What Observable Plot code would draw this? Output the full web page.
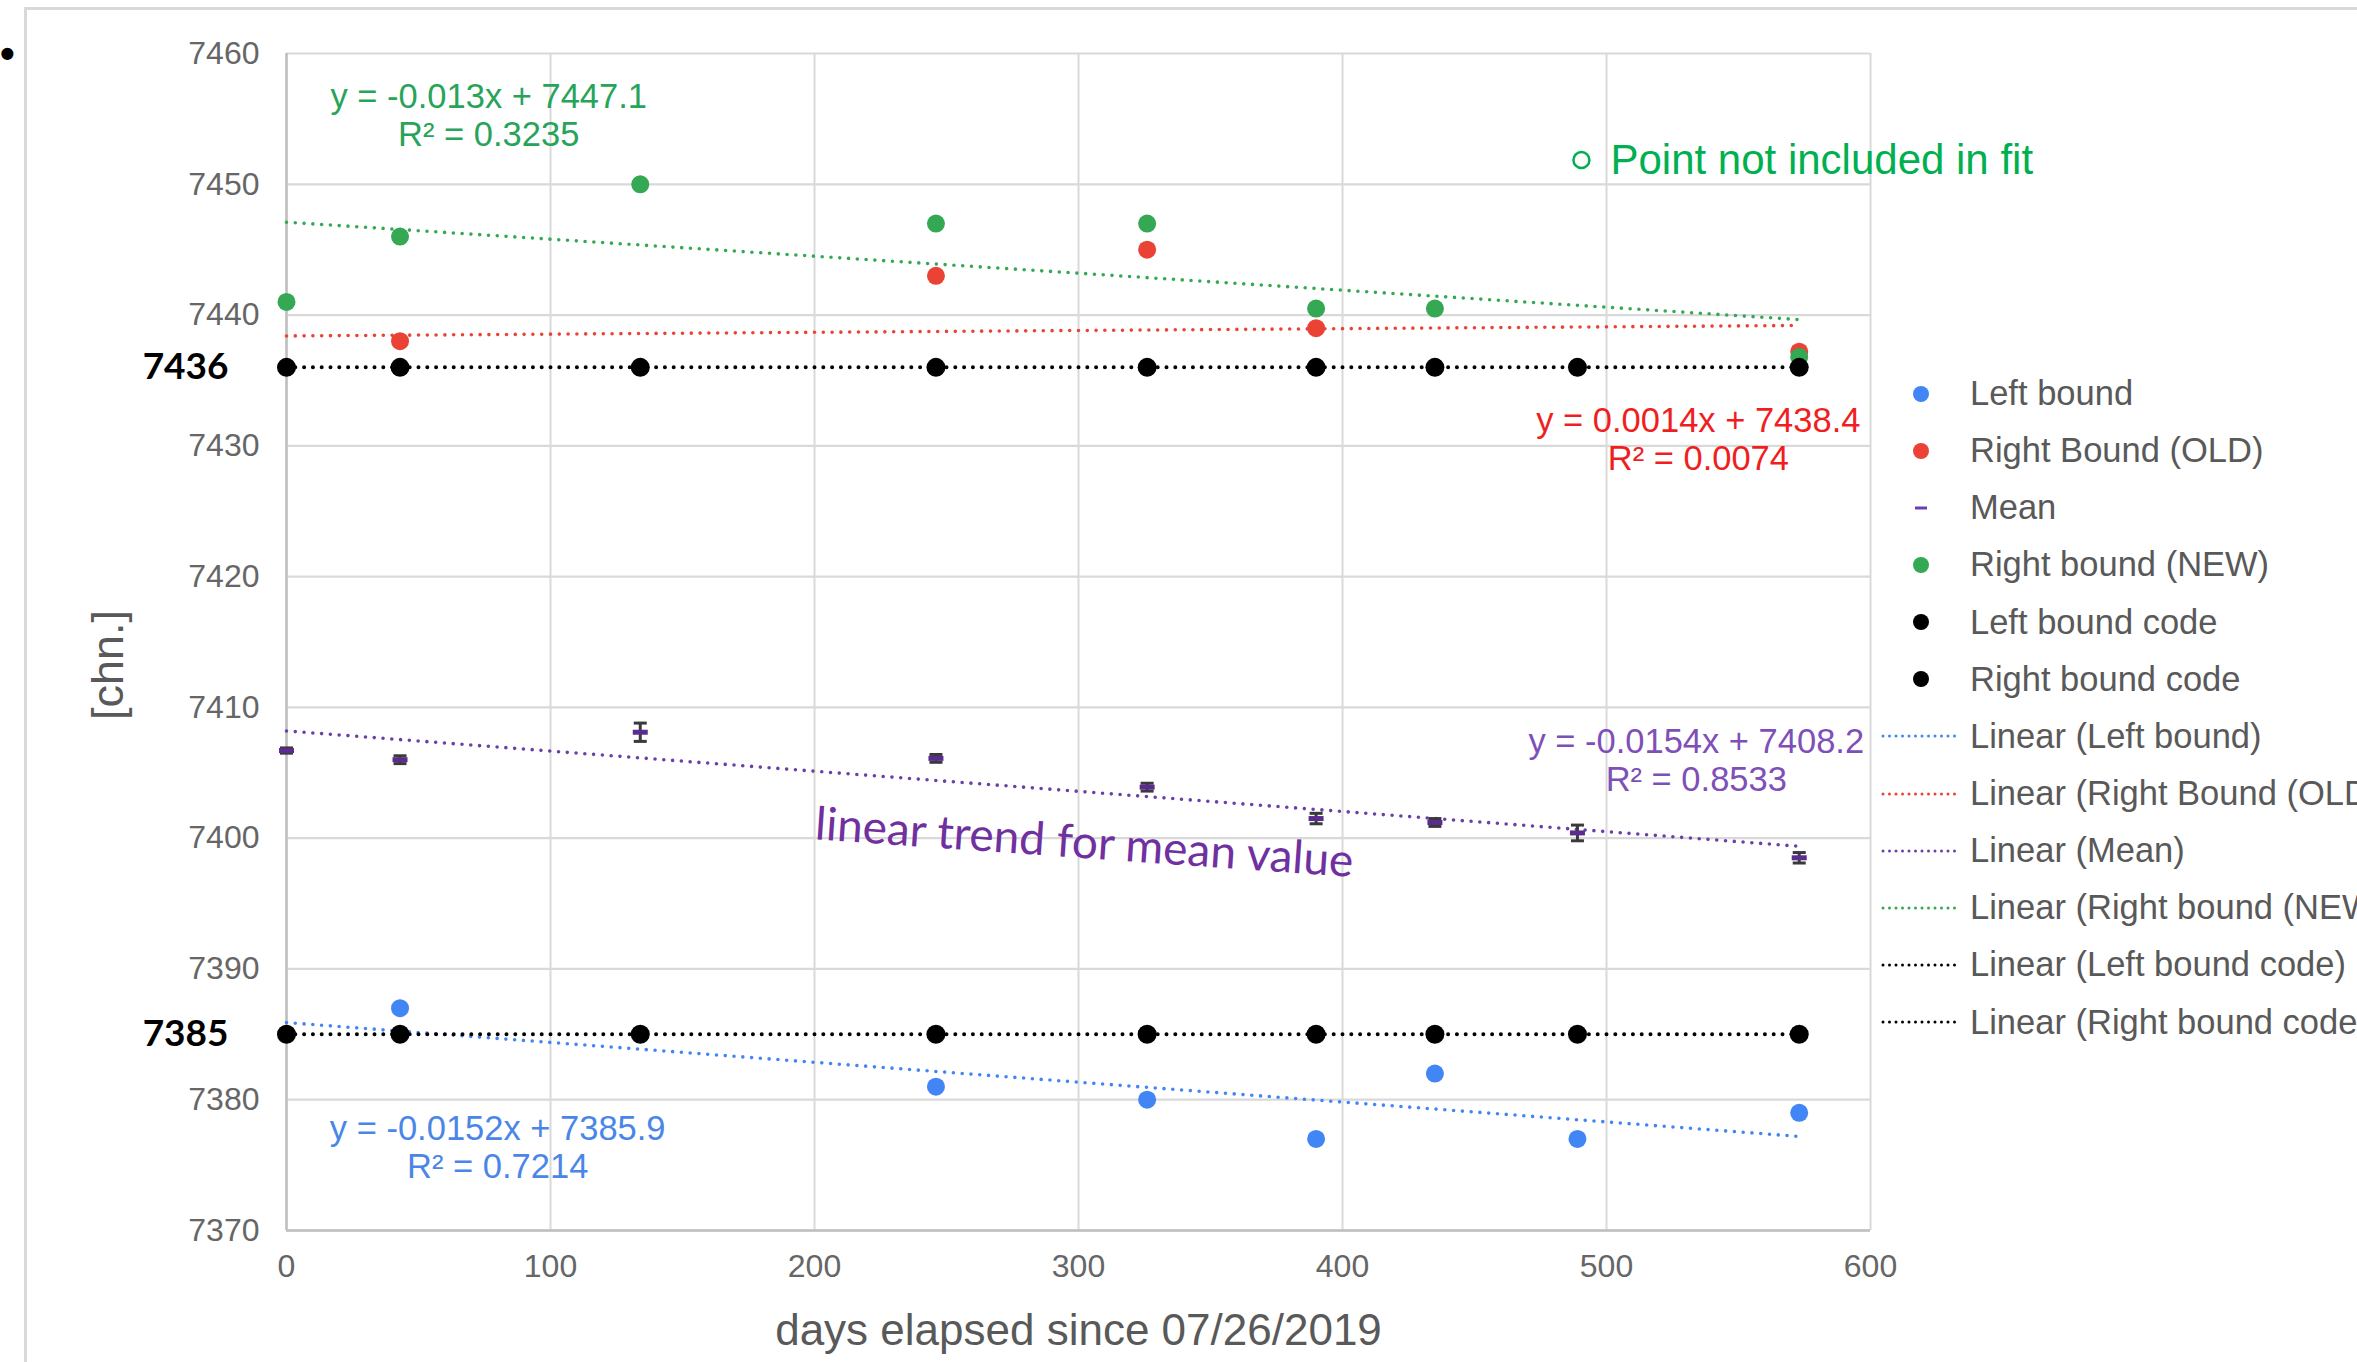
<!DOCTYPE html>
<html>
<head>
<meta charset="utf-8">
<script src="https://cdn.jsdelivr.net/npm/d3@7"></script>
<script src="https://cdn.jsdelivr.net/npm/@observablehq/plot@0.6"></script>
<style>
  html, body { margin: 0; padding: 0; background: #fff; overflow: hidden; width: 2357px; height: 1362px; }
  #wrap { position: relative; width: 2357px; height: 1362px; overflow: hidden; }
  #frame { position: absolute; left: 24px; top: 7px; width: 2400px; height: 1400px; border-left: 3px solid #d9d9d9; border-top: 3px solid #d9d9d9; }
  #bullet { position: absolute; left: 0px; top: 33px; font: bold 42px/1 'Liberation Sans', Arial, sans-serif; color: #000; }
  #chart { position: absolute; left: 0; top: 0; }
  #legend { position: absolute; left: 1875px; top: 365px; font-family: 'Liberation Sans', Arial, sans-serif; font-size: 34.5px; color: #595959; white-space: nowrap; }
  .row { height: 57.15px; display: flex; align-items: center; }
  .row svg { flex: none; }
  .row span { margin-left: 5px; }
</style>
</head>
<body>
<div id="wrap">
  <div id="frame"></div>
  <div id="bullet">•</div>
  <div id="chart"></div>
  <div id="legend"></div>
</div>
<script>
// ---------------- data ----------------
const days = [0, 43, 134, 246, 326, 390, 435, 489, 573];
const leftBound      = [7385, 7387, 7385, 7381, 7380, 7377, 7382, 7377, 7379];
const rightBoundOld  = [7436, 7438, 7436, 7443, 7445, 7439, 7436, 7436, 7437.2];
const meanValue      = [7406.7, 7406.0, 7408.1, 7406.1, 7403.9, 7401.5, 7401.2, 7400.4, 7398.5];
const meanError      = [0.2, 0.3, 0.7, 0.3, 0.3, 0.4, 0.3, 0.6, 0.4];
const rightBoundNew  = [7441, 7446, 7450, 7447, 7447, 7440.5, 7440.5, null, 7436.8];
const leftBoundCode  = [7385, 7385, 7385, 7385, 7385, 7385, 7385, 7385, 7385];
const rightBoundCode = [7436, 7436, 7436, 7436, 7436, 7436, 7436, 7436, 7436];

const seriesNames = ["Left bound", "Right Bound (OLD)", "Mean", "Right bound (NEW)", "Left bound code", "Right bound code"];
const fitSlope     = [-0.0152, 0.0014, -0.0154, -0.013, 0, 0];
const fitIntercept = [7385.9, 7438.4, 7408.2, 7447.1, 7385, 7436];
const fitR2        = ["0.7214", "0.0074", "0.8533", "0.3235", null, null];

const xTicks = [0, 100, 200, 300, 400, 500, 600];
const yTicks = [7370, 7380, 7390, 7400, 7410, 7420, 7430, 7440, 7450, 7460];
const codeLevels = [7436, 7385];

const xTitle = "days elapsed since 07/26/2019";
const yTitle = "[chn.]";
const noteText = "Point not included in fit";
const meanNote = "linear trend for mean value";

// ---------------- styles ----------------
const seriesColors = ["#4285F4", "#EA4335", "#6a3fa8", "#34A853", "#000000", "#000000"];
const eqColors = ["#4a86e8", "#f01e1e", "#7f4fb8", "#27a35a"];
const FONT = "'Liberation Sans', Arial, sans-serif";

// ---------------- derived tables ----------------
const pts = (arr) => days.map((x, i) => ({x, y: arr[i]})).filter(d => d.y != null);
const xMax = d3.max(days);
const trend = (i) => [0, xMax].map(x => ({x, y: fitIntercept[i] + fitSlope[i] * x}));
const meanRows = days.map((x, i) => ({x, y: meanValue[i], lo: meanValue[i] - meanError[i], hi: meanValue[i] + meanError[i]}));
const eqLabel = (i) => `y = ${fitSlope[i]}x + ${fitIntercept[i]}\nR² = ${fitR2[i]}`;

const hbar = { draw(ctx, size) { const w = Math.sqrt(size / Math.PI); ctx.moveTo(-w, 0); ctx.lineTo(w, 0); } };

const dotted = (i) => ({strokeWidth: i >= 4 ? 4 : 3.6, strokeDasharray: "0 8.8", strokeLinecap: "round"});

const marks = [
  Plot.ruleX(xTicks, {stroke: "#d9d9d9", strokeWidth: 2}),
  Plot.ruleY(yTicks, {stroke: "#d9d9d9", strokeWidth: 2.2}),
  Plot.ruleX([0], {stroke: "#bfbfbf", strokeWidth: 2.5}),
  Plot.ruleY([7370], {stroke: "#bfbfbf", strokeWidth: 2.5}),
];
// trend lines
[0, 1, 2, 3, 4, 5].forEach(i => {
  marks.push(Plot.line(trend(i), {x: "x", y: "y", stroke: seriesColors[i], ...dotted(i)}));
});
// error bars for mean
marks.push(Plot.ruleX(meanRows, {x: "x", y1: "lo", y2: "hi", stroke: "#3a3a3a", strokeWidth: 3}));
marks.push(Plot.dot(meanRows, {x: "x", y: "lo", symbol: hbar, r: 6.5, fill: "none", stroke: "#3a3a3a", strokeWidth: 3}));
marks.push(Plot.dot(meanRows, {x: "x", y: "hi", symbol: hbar, r: 6.5, fill: "none", stroke: "#3a3a3a", strokeWidth: 3}));
// points
marks.push(Plot.dot(pts(leftBound), {x: "x", y: "y", r: 9, fill: seriesColors[0]}));
marks.push(Plot.dot(pts(rightBoundOld), {x: "x", y: "y", r: 9, fill: seriesColors[1]}));
marks.push(Plot.dot(pts(meanValue), {x: "x", y: "y", symbol: hbar, r: 7.5, fill: "none", stroke: "#5b2c8f", strokeWidth: 5}));
marks.push(Plot.dot(pts(rightBoundNew), {x: "x", y: "y", r: 9, fill: seriesColors[3]}));
marks.push(Plot.dot(pts(leftBoundCode), {x: "x", y: "y", r: 9.5, fill: "#000"}));
marks.push(Plot.dot(pts(rightBoundCode), {x: "x", y: "y", r: 9.5, fill: "#000"}));

// equations
const eqStyle = {fontSize: 34.5, lineHeight: 1.1, textAnchor: "middle", fontFamily: FONT};
marks.push(Plot.text([eqLabel(3)], {x: 76.6, y: 7455.3, fill: eqColors[3], ...eqStyle}));
marks.push(Plot.text([eqLabel(1)], {x: 534.8, y: 7430.5, fill: eqColors[1], ...eqStyle}));
marks.push(Plot.text([eqLabel(2)], {x: 534.0, y: 7406.0, fill: eqColors[2], ...eqStyle}));
marks.push(Plot.text([eqLabel(0)], {x: 80.0, y: 7376.4, fill: eqColors[0], ...eqStyle}));

// notes
marks.push(Plot.dot([0], {x: 490.5, y: 7451.85, r: 8, fill: "#fff", stroke: "#00B050", strokeWidth: 2.5}));
marks.push(Plot.text([noteText], {x: 501.5, y: 7451.85, textAnchor: "start", fontSize: 42, fill: "#00B050", fontFamily: FONT}));
marks.push(Plot.text([meanNote], {x: 302.2, y: 7399.6, rotate: 4, fontSize: 46, fill: "#7030A0", fontFamily: "Lato, 'Open Sans', sans-serif"}));

// bold code labels
marks.push(Plot.text(codeLevels, {x: 0, y: d => d, text: d => String(d), dx: -58, textAnchor: "end", fontWeight: "bold", fontSize: 37, fill: "#000", fontFamily: "Lato, 'Noto Sans', sans-serif"}));

// axis titles
marks.push(Plot.text([yTitle], {frameAnchor: "left", dx: -178, dy: 78, rotate: -90, fontSize: 45, fill: "#595959", fontFamily: FONT}));
marks.push(Plot.text([xTitle], {frameAnchor: "bottom", dy: 114, fontSize: 44, fill: "#595959", fontFamily: FONT}));

const chart = Plot.plot({
  width: 2357,
  height: 1362,
  marginLeft: 286,
  marginRight: 487,
  marginTop: 53,
  marginBottom: 132,
  style: {fontFamily: FONT, fontSize: "32px", color: "#666666", background: "transparent", overflow: "visible"},
  x: {domain: [0, 600], ticks: xTicks, tickSize: 0, tickPadding: 24, tickFormat: d => String(d), label: null},
  y: {domain: [7370, 7460], ticks: yTicks, tickSize: 0, tickPadding: 27, tickFormat: d => String(d), label: null},
  marks
});
document.getElementById("chart").appendChild(chart);

// ---------------- legend ----------------
const legend = d3.select("#legend");
const legendItems = [
  ...seriesNames.map((name, i) => ({label: name, kind: i === 2 ? "dash" : "dot", color: i === 2 ? "#6b3fb0" : seriesColors[i]})),
  ...seriesNames.map((name, i) => ({label: `Linear (${name})`, kind: "line", color: seriesColors[i]}))
];
legendItems.forEach(item => {
  const row = legend.append("div").attr("class", "row");
  const svg = row.append("svg").attr("width", 90).attr("height", 20);
  if (item.kind === "dot") svg.append("circle").attr("cx", 46).attr("cy", 10).attr("r", 8).attr("fill", item.color);
  else if (item.kind === "dash") svg.append("line").attr("x1", 40).attr("x2", 52).attr("y1", 10).attr("y2", 10).attr("stroke", item.color).attr("stroke-width", 3);
  else svg.append("line").attr("x1", 8).attr("x2", 82).attr("y1", 10).attr("y2", 10).attr("stroke", item.color).attr("stroke-width", 3).attr("stroke-linecap", "round").attr("stroke-dasharray", "0 6.5");
  row.append("span").text(item.label);
});
</script>
</body>
</html>
